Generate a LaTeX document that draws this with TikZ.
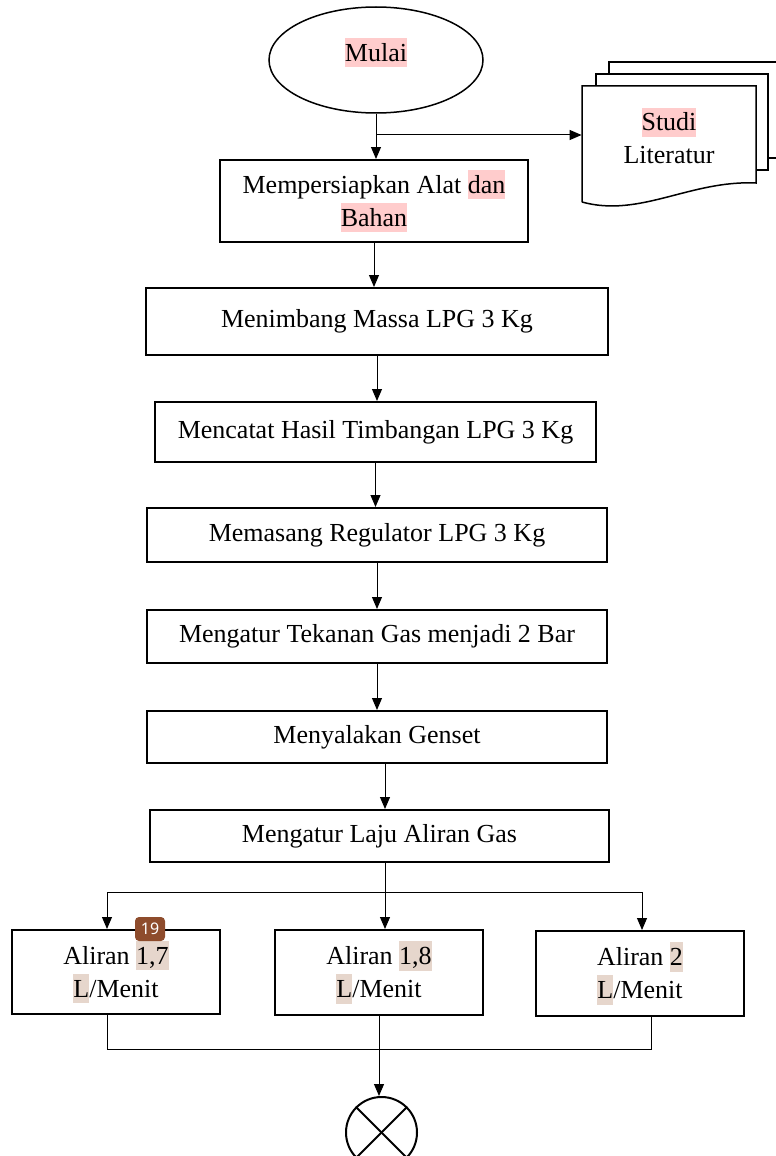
\documentclass[tikz,border=0pt]{standalone}
\usepackage{fontspec}
\setmainfont{Liberation Serif}
\newfontfamily\badgefont{Noto Sans}
\usetikzlibrary{shapes.geometric,arrows.meta}

\definecolor{merahmuda}{RGB}{255,204,204}
\definecolor{krem}{RGB}{230,214,204}
\definecolor{coklat}{RGB}{142,76,44}
\newcommand{\tandai}[1]{{\setlength{\fboxsep}{0pt}\colorbox{merahmuda}{\rule[-0.23em]{0pt}{1.12em}#1}}}
\newcommand{\tandaiangka}[1]{{\setlength{\fboxsep}{0pt}\colorbox{krem}{\rule[-0.23em]{0pt}{1.12em}#1}}}

\begin{document}
\begin{tikzpicture}[x=0.5pt,y=-0.5pt,>={Triangle[length=6pt,width=5pt]},
    every node/.style={font=\fontsize{13}{16.5}\selectfont},
    kotak/.style={draw,line width=1pt,align=center,inner sep=0pt},
    garis/.style={line width=0.5pt},
    dokumen/.style={line width=0.75pt}]
    \useasboundingbox (0,0) rectangle (776,1156);

    \node [draw,ellipse,line width=0.75pt,minimum width=107pt,minimum height=53pt,text depth=10.5pt] (mulai) at (376,60) {\tandai{Mulai}};

    \draw[dokumen] (609,74) -- (609,62) -- (790,62);
    \draw[dokumen] (768,158) -- (790,158);
    \draw[dokumen] (596,86) -- (596,74) -- (768,74) -- (768,170) -- (756,170);
    \draw[dokumen, fill=white] (582,202) -- (582,86) -- (756,86) -- (756,183)
      .. controls (690,180) and (640,218) .. (582,202);
    \node [align=center,minimum width=87pt,inner sep=0pt] (studi) at (669,136) {\tandai{Studi}\\Literatur};

    \node [kotak,minimum width=154pt,minimum height=41pt] (persiapan) at (374,201) {Mempersiapkan Alat \tandai{dan}\\\tandai{Bahan}};
    \node [kotak,minimum width=231pt,minimum height=33.5pt] (timbang) at (377,321.5) {Menimbang Massa LPG 3 Kg};
    \node [kotak,minimum width=220.5pt,minimum height=30pt] (catat) at (375.5,432) {Mencatat Hasil Timbangan LPG 3 Kg};
    \node [kotak,minimum width=230pt,minimum height=27pt] (pasang) at (377,535) {Memasang Regulator LPG 3 Kg};
    \node [kotak,minimum width=230pt,minimum height=26.5pt] (tekanan) at (377,636.5) {Mengatur Tekanan Gas menjadi 2 Bar};
    \node [kotak,minimum width=230pt,minimum height=26pt] (genset) at (377,737) {Menyalakan Genset};
    \node [kotak,minimum width=229.5pt,minimum height=26pt] (laju) at (379.5,836) {Mengatur Laju Aliran Gas};

    \node [kotak,minimum width=104pt,minimum height=42pt] (aliranA) at (116,972) {Aliran \tandaiangka{1,7}\\\tandaiangka{L}/Menit};
    \node [kotak,minimum width=104pt,minimum height=42.5pt] (aliranB) at (379,972.5) {Aliran \tandaiangka{1,8}\\\tandaiangka{L}/Menit};
    \node [kotak,minimum width=104pt,minimum height=42.5pt] (aliranC) at (640,973.5) {Aliran \tandaiangka{2}\\\tandaiangka{L}/Menit};

    \node [draw,circle,line width=1pt,minimum size=35.5pt,inner sep=0pt] (selesai) at (381.5,1132.5) {};
    \draw[line width=1pt] (selesai.north west) -- (selesai.south east);
    \draw[line width=1pt] (selesai.north east) -- (selesai.south west);

    \coordinate (cabang) at (376,135);
    \draw[garis,->] (mulai.south) -- (mulai.south |- persiapan.north);
    \draw[garis,->] (cabang) -- (cabang -| studi.west);
    \foreach \a/\b in {persiapan/timbang,timbang/catat,catat/pasang,pasang/tekanan,tekanan/genset}
    {
      \draw[garis,->] (\a.south) -- (\a.south |- \b.north);
    }
    \coordinate (pisah) at (385,892);
    \draw[garis,->] (genset.south -| pisah) -- (pisah |- laju.north);

    \coordinate (pisahkiri) at (107,892);
    \coordinate (pisahkanan) at (642,892);
    \draw[garis] (laju.south -| pisah) -- (pisah);
    \draw[garis] (pisahkiri) -- (pisahkanan);
    \draw[garis,->] (pisahkiri) -- (pisahkiri |- aliranA.north);
    \draw[garis,->] (pisah) -- (pisah |- aliranB.north);
    \draw[garis,->] (pisahkanan) -- (pisahkanan |- aliranC.north);

    \coordinate (gabungkiri) at (107,1049);
    \coordinate (gabungkanan) at (651,1049);
    \draw[garis] (gabungkiri |- aliranA.south) -- (gabungkiri) -- (gabungkanan) -- (gabungkanan |- aliranC.south);
    \draw[garis,->] (aliranB.south) -- (aliranB.south |- selesai.north);

    \node [fill=coklat,rounded corners=2pt,minimum width=15pt,minimum height=12pt,inner sep=0pt,text=white,font=\badgefont\fontsize{8}{10}\selectfont] (badge) at (150,929) {19};
\end{tikzpicture}
\end{document}
